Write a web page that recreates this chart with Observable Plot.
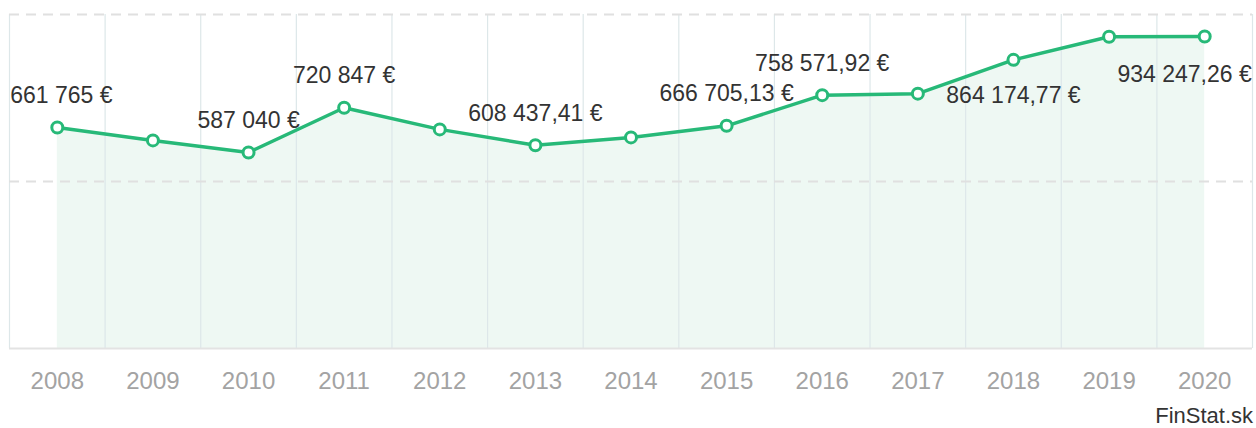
<!DOCTYPE html>
<html>
<head>
<meta charset="utf-8">
<script src="https://cdn.jsdelivr.net/npm/d3@7"></script>
<script src="https://cdn.jsdelivr.net/npm/@observablehq/plot@0.6"></script>
<style>
  html, body { margin: 0; padding: 0; background: #fff; }
  #chart { width: 1256px; }
  #caption { font-family: "Liberation Sans", Arial, sans-serif; font-size: 22px; line-height: 31px; height: 28px; text-align: right; padding-right: 3px; color: #333; }
</style>
</head>
<body>
<div id="chart"></div>
<div id="caption">FinStat.sk</div>
<script>
const years = [2008, 2009, 2010, 2011, 2012, 2013, 2014, 2015, 2016, 2017, 2018, 2019, 2020];
const values = [661765, 623000, 587040, 720847, 656000, 608437.41, 632000, 666705.13, 758571.92, 763000, 864174.77, 933500, 934247.26];
const labeledYears = [2008, 2010, 2011, 2013, 2015, 2016, 2018, 2020];
const belowYears = [2018, 2019, 2020];
const gridValues = [500000, 1000000];

function fmt(v) {
  const [i, f] = v.toFixed(2).split(".");
  const grouped = i.replace(/\B(?=(\d{3})+(?!\d))/g, " ");
  return grouped + (f === "00" ? "" : "," + f) + " €";
}

const data = years.map((y, k) => ({year: y, value: values[k], label: fmt(values[k])}));
const labeled = data.filter(d => labeledYears.includes(d.year));
const firstYear = years[0], lastYear = years[years.length - 1];
const first = labeled.filter(d => d.year === firstYear);
const above = labeled.filter(d => !belowYears.includes(d.year) && d.year !== firstYear);
const below = labeled.filter(d => belowYears.includes(d.year) && d.year !== lastYear);
const last = labeled.filter(d => d.year === lastYear);
const bounds = d3.range(years.length + 1).map(k => years[0] - 0.5 + k);

const green = "#27b978";
const font = "'Liberation Sans', Arial, sans-serif";

const chart = Plot.plot({
  width: 1256,
  height: 400,
  marginTop: 14,
  marginBottom: 52,
  marginLeft: 9,
  marginRight: 4,
  style: {fontFamily: font, background: "#fff"},
  x: {domain: [firstYear - 0.5, lastYear + 0.5], axis: null},
  y: {domain: [0, 1000000], axis: null},
  marks: [
    Plot.areaY(data, {x: "year", y: "value", fill: "#eef8f3"}),
    Plot.ruleX(bounds, {x: d => d, y1: 0, y2: 1000000, stroke: "#dde7e9", strokeWidth: 1.2}),
    Plot.ruleY(gridValues, {y: d => d, stroke: "#e0e0e0", strokeWidth: 2, strokeDasharray: "10,7"}),
    Plot.ruleY([0], {stroke: "#e3e3e3", strokeWidth: 2}),
    Plot.line(data, {x: "year", y: "value", stroke: green, strokeWidth: 3.5}),
    Plot.dot(data, {x: "year", y: "value", r: 5.5, fill: "#fff", stroke: green, strokeWidth: 3}),
    Plot.text(first, {x: "year", y: "value", text: "label", dy: -32, dx: 4, fontSize: 23, fill: "#333", lineAnchor: "middle"}),
    Plot.text(above, {x: "year", y: "value", text: "label", dy: -32, fontSize: 23, fill: "#333", lineAnchor: "middle"}),
    Plot.text(below, {x: "year", y: "value", text: "label", dy: 36, fontSize: 23, fill: "#333", lineAnchor: "middle"}),
    Plot.text(last, {x: "year", y: "value", text: "label", dy: 38, dx: 47, textAnchor: "end", fontSize: 23, fill: "#333", lineAnchor: "middle"}),
    Plot.axisX(years, {tickSize: 0, tickPadding: 23, tickFormat: d => String(d), fontSize: 24, fill: "#a3a3a3", anchor: "bottom", label: null})
  ]
});
document.getElementById("chart").appendChild(chart);
</script>
</body>
</html>
